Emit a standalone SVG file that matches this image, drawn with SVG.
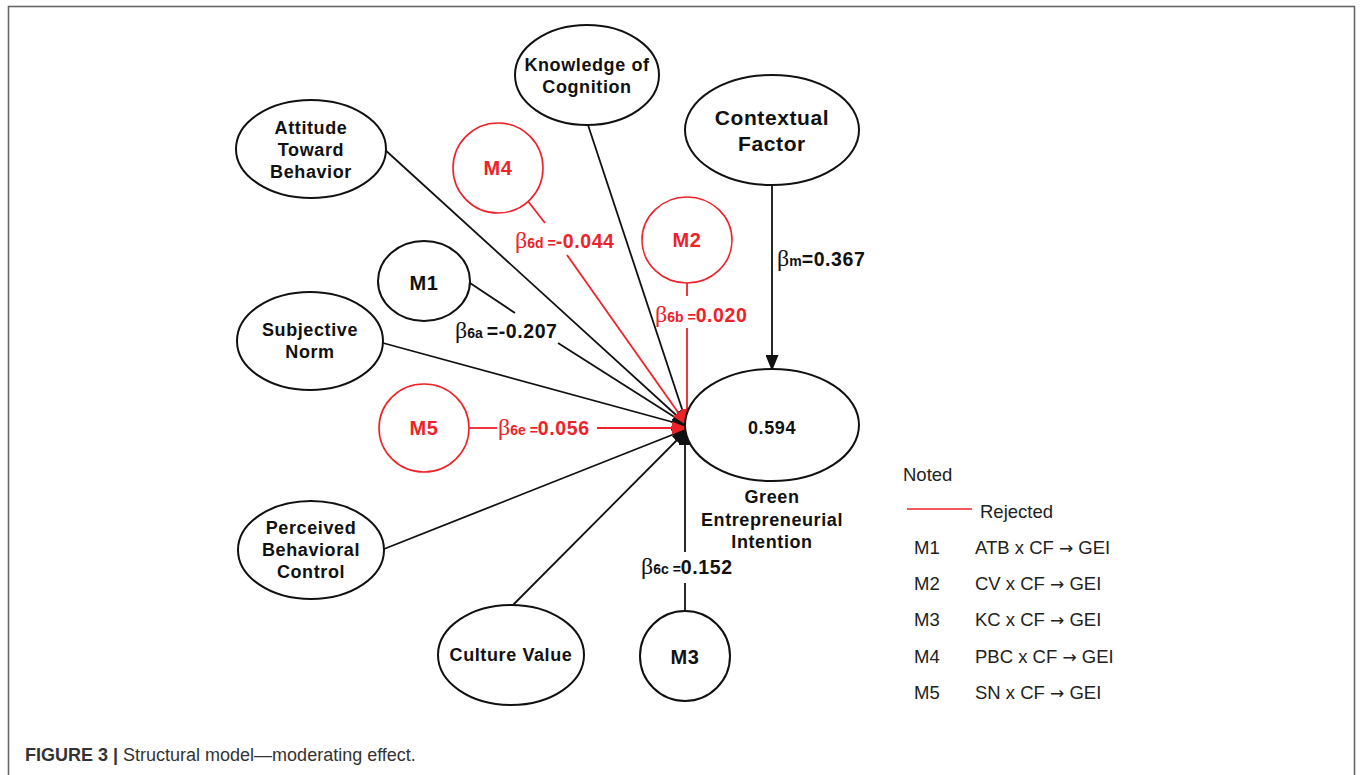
<svg xmlns="http://www.w3.org/2000/svg" width="1360" height="775" viewBox="0 0 1360 775">
<style>
.n{fill:#fff;stroke:#111;stroke-width:2}
.nr{fill:#fff;stroke:#ee2229;stroke-width:1.6}
.t{font-family:"Liberation Sans",Arial,sans-serif;font-weight:bold;font-size:18px;letter-spacing:0.6px;fill:#111;text-anchor:middle}
.tr{fill:#ee2229}
.k{stroke:#111;stroke-width:1.8;fill:none}
.r{stroke:#ee2229;stroke-width:1.8;fill:none}
.b{font-family:"Liberation Sans",Arial,sans-serif;font-weight:bold;font-size:19.5px;letter-spacing:0.6px;fill:#111}
.br{fill:#ee2229}
.g{font-family:"Liberation Serif","Times New Roman",serif;font-weight:normal;font-size:24px;letter-spacing:0}
.s{font-size:14px;letter-spacing:0}
.lg{font-family:"Liberation Sans",Arial,sans-serif;font-size:18.5px;fill:#222}
.ar{font-family:"DejaVu Sans",sans-serif;font-size:17px}
</style>
<defs>
<marker id="ak" markerWidth="16" markerHeight="13" refX="15" refY="6.5" orient="auto" markerUnits="userSpaceOnUse"><path d="M0,0 L16,6.5 L0,13 Z" fill="#111"/></marker>
<marker id="ar" markerWidth="16" markerHeight="13" refX="15" refY="6.5" orient="auto" markerUnits="userSpaceOnUse"><path d="M0,0 L16,6.5 L0,13 Z" fill="#ee2229"/></marker>
</defs>
<rect x="8.5" y="6.5" width="1346" height="820" fill="#fff" stroke="#666" stroke-width="1.6"/>

<g id="connectors">
<line class="k" x1="383" y1="148" x2="687" y2="425" marker-end="url(#ak)"/>
<line class="k" x1="588" y1="125" x2="687" y2="424" marker-end="url(#ak)"/>
<line class="k" x1="772" y1="185" x2="772" y2="370" marker-end="url(#ak)"/>
<line class="k" x1="383" y1="343" x2="687" y2="426" marker-end="url(#ak)"/>
<line class="k" x1="470" y1="283" x2="515" y2="313"/>
<line class="k" x1="558" y1="343" x2="687" y2="425" marker-end="url(#ak)"/>
<line class="k" x1="384" y1="549" x2="687" y2="429" marker-end="url(#ak)"/>
<line class="k" x1="513" y1="605" x2="687" y2="430" marker-end="url(#ak)"/>
<line class="k" x1="685" y1="611" x2="685" y2="583"/>
<line class="k" x1="685" y1="552" x2="685" y2="430" marker-end="url(#ak)"/>
<line class="r" x1="527" y1="200" x2="545" y2="223"/>
<line class="r" x1="567" y1="255" x2="687" y2="425" marker-end="url(#ar)"/>
<line class="r" x1="687" y1="283" x2="687" y2="296"/>
<line class="r" x1="687" y1="328" x2="687" y2="424" marker-end="url(#ar)"/>
<line class="r" x1="469" y1="428" x2="497" y2="428"/>
<line class="r" x1="597" y1="428" x2="687" y2="428" marker-end="url(#ar)"/>
</g>

<g id="labels">
<text class="b br" x="515" y="248"><tspan class="g">β</tspan><tspan class="s">6d =</tspan><tspan>-0.044</tspan></text>
<text class="b" x="455" y="338"><tspan class="g">β</tspan><tspan class="s">6a </tspan><tspan>=-0.207</tspan></text>
<text class="b br" x="498" y="435"><tspan class="g">β</tspan><tspan class="s">6e =</tspan><tspan>0.056</tspan></text>
<text class="b br" x="655" y="322"><tspan class="g">β</tspan><tspan class="s">6b =</tspan><tspan>0.020</tspan></text>
<text class="b" x="777" y="266"><tspan class="g">β</tspan><tspan class="s">m</tspan><tspan>=0.367</tspan></text>
<text class="b" x="641" y="574"><tspan class="g">β</tspan><tspan class="s">6c =</tspan><tspan>0.152</tspan></text>
</g>

<g id="atb"><ellipse class="n" cx="311" cy="149" rx="75" ry="49"/>
<text class="t" x="311" y="134">Attitude</text><text class="t" x="311" y="156">Toward</text><text class="t" x="311" y="178">Behavior</text></g>
<g id="kc"><ellipse class="n" cx="587" cy="75" rx="72" ry="50"/>
<text class="t" x="587" y="71">Knowledge of</text><text class="t" x="587" y="93">Cognition</text></g>
<g id="cf"><ellipse class="n" cx="772" cy="130" rx="87" ry="55"/>
<text class="t" style="font-size:21px" x="772" y="125">Contextual</text><text class="t" style="font-size:21px" x="772" y="151">Factor</text></g>
<g id="m4"><ellipse class="nr" cx="498" cy="168" rx="45" ry="45"/>
<text class="t tr" style="font-size:20px" x="498" y="175">M4</text></g>
<g id="m2"><ellipse class="nr" cx="687" cy="240" rx="45" ry="43"/>
<text class="t tr" style="font-size:20px" x="687" y="247">M2</text></g>
<g id="m1"><ellipse class="n" cx="424" cy="281" rx="46" ry="40"/>
<text class="t" style="font-size:20px" x="424" y="290">M1</text></g>
<g id="sn"><ellipse class="n" cx="310" cy="341" rx="73" ry="49"/>
<text class="t" x="310" y="336">Subjective</text><text class="t" x="310" y="358">Norm</text></g>
<g id="m5"><ellipse class="nr" cx="424" cy="428" rx="45" ry="44"/>
<text class="t tr" style="font-size:20px" x="424" y="435">M5</text></g>
<g id="pbc"><ellipse class="n" cx="311" cy="550" rx="73" ry="49"/>
<text class="t" x="311" y="534">Perceived</text><text class="t" x="311" y="556">Behavioral</text><text class="t" x="311" y="578">Control</text></g>
<g id="cv"><ellipse class="n" cx="511" cy="655" rx="73" ry="50"/>
<text class="t" x="511" y="661">Culture Value</text></g>
<g id="m3"><ellipse class="n" cx="685" cy="656" rx="45" ry="45"/>
<text class="t" style="font-size:20px" x="685" y="664">M3</text></g>
<g id="gei"><ellipse class="n" cx="772" cy="425" rx="87" ry="56"/>
<text class="t" x="772" y="434">0.594</text>
<text class="t" x="772" y="503">Green</text><text class="t" x="772" y="526">Entrepreneurial</text><text class="t" x="772" y="548">Intention</text></g>

<g id="legend">
<text class="lg" x="903" y="481">Noted</text>
<line x1="907" y1="509" x2="972" y2="509" stroke="#ee2229" stroke-width="1.6"/>
<text class="lg" x="980" y="518">Rejected</text>
<text class="lg" x="914" y="554">M1</text><text class="lg" x="975" y="554">ATB x CF <tspan class="ar">→</tspan> GEI</text>
<text class="lg" x="914" y="590">M2</text><text class="lg" x="975" y="590">CV x CF <tspan class="ar">→</tspan> GEI</text>
<text class="lg" x="914" y="626">M3</text><text class="lg" x="975" y="626">KC x CF <tspan class="ar">→</tspan> GEI</text>
<text class="lg" x="914" y="663">M4</text><text class="lg" x="975" y="663">PBC x CF <tspan class="ar">→</tspan> GEI</text>
<text class="lg" x="914" y="699">M5</text><text class="lg" x="975" y="699">SN x CF <tspan class="ar">→</tspan> GEI</text>
</g>

<text x="25" y="761" style="font-family:'Liberation Sans',Arial,sans-serif;font-size:18px;fill:#333"><tspan font-weight="bold">FIGURE 3 |</tspan> Structural model—moderating effect.</text>
</svg>
